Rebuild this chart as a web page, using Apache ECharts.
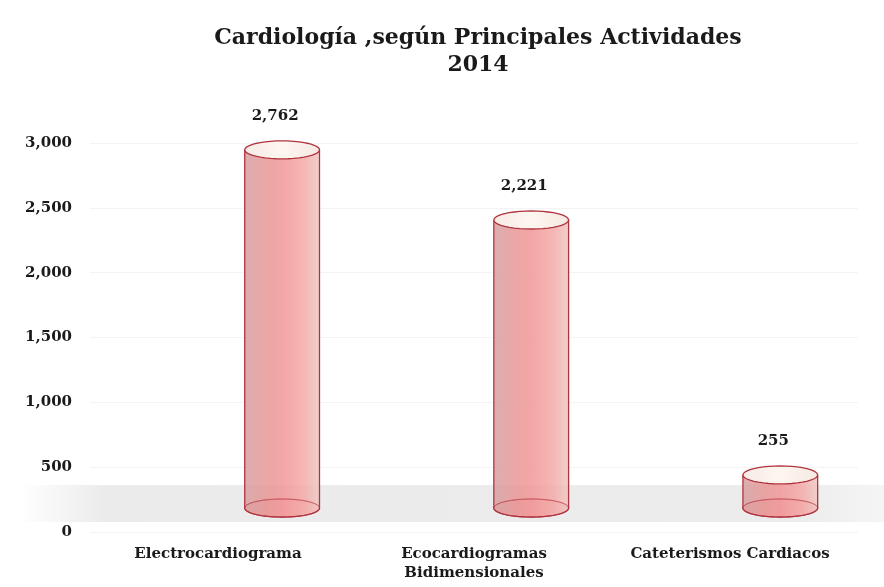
<!DOCTYPE html>
<html>
<head>
<meta charset="utf-8">
<script src="https://cdn.jsdelivr.net/npm/echarts@6/dist/echarts.min.js"></script>
<style>
  html, body { margin: 0; padding: 0; background: #fff; }
  #chart { width: 884px; height: 587px; }
</style>
</head>
<body>
<div id="chart"></div>
<script>
// datos
var categorias = ['Electrocardiograma', 'Ecocardiogramas\nBidimensionales', 'Cateterismos Cardiacos'];
var valores = [2762, 2221, 255];
var ejeY = [0, 500, 1000, 1500, 2000, 2500, 3000];

var fuente = '"DejaVu Serif", "Liberation Serif", serif';
var borde = '#b0343f';

function elipse(cx, cy, rx, ry, desde, hasta) {
    var pts = [];
    var n = 40;
    for (var i = 0; i <= n; i++) {
        var a = desde + (hasta - desde) * i / n;
        pts.push([cx + rx * Math.cos(a), cy + ry * Math.sin(a)]);
    }
    return pts;
}

// cilindro "3D": desplazado hacia la derecha y arriba respecto al eje
function cilindro(params, api) {
    var x = api.value(0), v = api.value(1);
    var arriba = api.coord([x, v]);
    var base = api.coord([x, 0]);
    var cx = arriba[0] * 0.973 + 70;
    var ty = arriba[1] - 24;
    var by = base[1] - 24;
    var rx = api.size([1, 0])[0] * 0.146;
    var ry = 9;

    var inferior = elipse(cx, by, rx, ry, Math.PI, 0);
    var poly = [[cx - rx, ty]].concat(inferior).concat([[cx + rx, ty]]);

    return {
        type: 'group',
        children: [
            {
                type: 'polygon',
                shape: { points: elipse(cx, by, rx, ry, 0, Math.PI * 2) },
                style: { fill: 'rgba(236,150,150,0.55)', stroke: borde, lineWidth: 1.3 }
            },
            {
                type: 'polygon',
                shape: { points: poly },
                style: {
                    fill: new echarts.graphic.LinearGradient(0, 0, 1, 0, [
                        { offset: 0, color: 'rgba(214,160,160,0.85)' },
                        { offset: 0.3, color: 'rgba(232,150,150,0.85)' },
                        { offset: 0.5, color: 'rgba(242,150,150,0.85)' },
                        { offset: 0.8, color: 'rgba(243,170,168,0.85)' },
                        { offset: 1, color: 'rgba(238,200,195,0.85)' }
                    ])
                }
            },
            {
                type: 'polyline',
                shape: { points: [[cx - rx, ty], [cx - rx, by]].concat(inferior.slice(1, -1)).concat([[cx + rx, by], [cx + rx, ty]]) },
                style: { fill: null, stroke: borde, lineWidth: 1.3 }
            },
            {
                type: 'polyline',
                shape: { points: elipse(cx, by, rx, ry, Math.PI, Math.PI * 2) },
                style: { fill: null, stroke: 'rgba(176,52,63,0.6)', lineWidth: 1 }
            },
            {
                type: 'polygon',
                shape: { points: elipse(cx, ty, rx, ry, 0, Math.PI * 2) },
                style: {
                    fill: new echarts.graphic.LinearGradient(0, 0, 1, 0, [
                        { offset: 0, color: '#f7ebe6' },
                        { offset: 0.5, color: '#fdf6ef' },
                        { offset: 1, color: '#f6e8e2' }
                    ]),
                    stroke: borde, lineWidth: 1.3
                }
            },
            {
                type: 'text',
                style: {
                    text: echarts.format.addCommas(v),
                    x: cx - 7, y: ty - 34,
                    align: 'center', verticalAlign: 'middle',
                    font: 'bold 15px ' + fuente,
                    fill: '#1a1a1a'
                }
            }
        ]
    };
}

var myChart = echarts.init(document.getElementById('chart'), null, { renderer: 'canvas' });

option = {
    backgroundColor: '#fff',
    title: {
        text: 'Cardiología ,según Principales Actividades\n2014',
        left: 473,
        textAlign: 'center',
        top: 20,
        textStyle: {
            fontFamily: fuente,
            fontWeight: 'bold',
            fontSize: 22,
            lineHeight: 27,
            color: '#1a1a1a'
        }
    },
    graphic: [
        {
            type: 'rect',
            z: -1,
            shape: { x: 18, y: 485, width: 866, height: 37 },
            style: {
                fill: new echarts.graphic.LinearGradient(0, 0, 1, 0, [
                    { offset: 0, color: 'rgba(236,236,236,0)' },
                    { offset: 0.1, color: '#ebebeb' },
                    { offset: 0.9, color: '#ececec' },
                    { offset: 1, color: 'rgba(238,238,238,0.6)' }
                ])
            }
        }
    ],
    grid: {
        left: 90,
        right: 26,
        top: 143,
        bottom: 55
    },
    xAxis: {
        type: 'category',
        data: categorias,
        axisLine: { show: false },
        axisTick: { show: false },
        axisLabel: {
            interval: 0,
            hideOverlap: false,
            margin: 13,
            fontFamily: fuente,
            fontSize: 15,
            fontWeight: 'bold',
            color: '#1a1a1a',
            lineHeight: 19
        }
    },
    yAxis: {
        type: 'value',
        min: ejeY[0],
        max: ejeY[ejeY.length - 1],
        interval: 500,
        axisLine: { show: false },
        axisTick: { show: false },
        splitLine: { lineStyle: { color: '#f4f4f4' } },
        axisLabel: {
            margin: 18,
            fontFamily: fuente,
            fontSize: 15,
            fontWeight: 'bold',
            color: '#1a1a1a',
            formatter: function (v) { return echarts.format.addCommas(v); }
        }
    },
    series: [
        {
            type: 'custom',
            renderItem: cilindro,
            data: valores.map(function (v, i) { return [i, v]; }),
            z: 5
        }
    ]
};

myChart.setOption(option);
</script>
</body>
</html>
